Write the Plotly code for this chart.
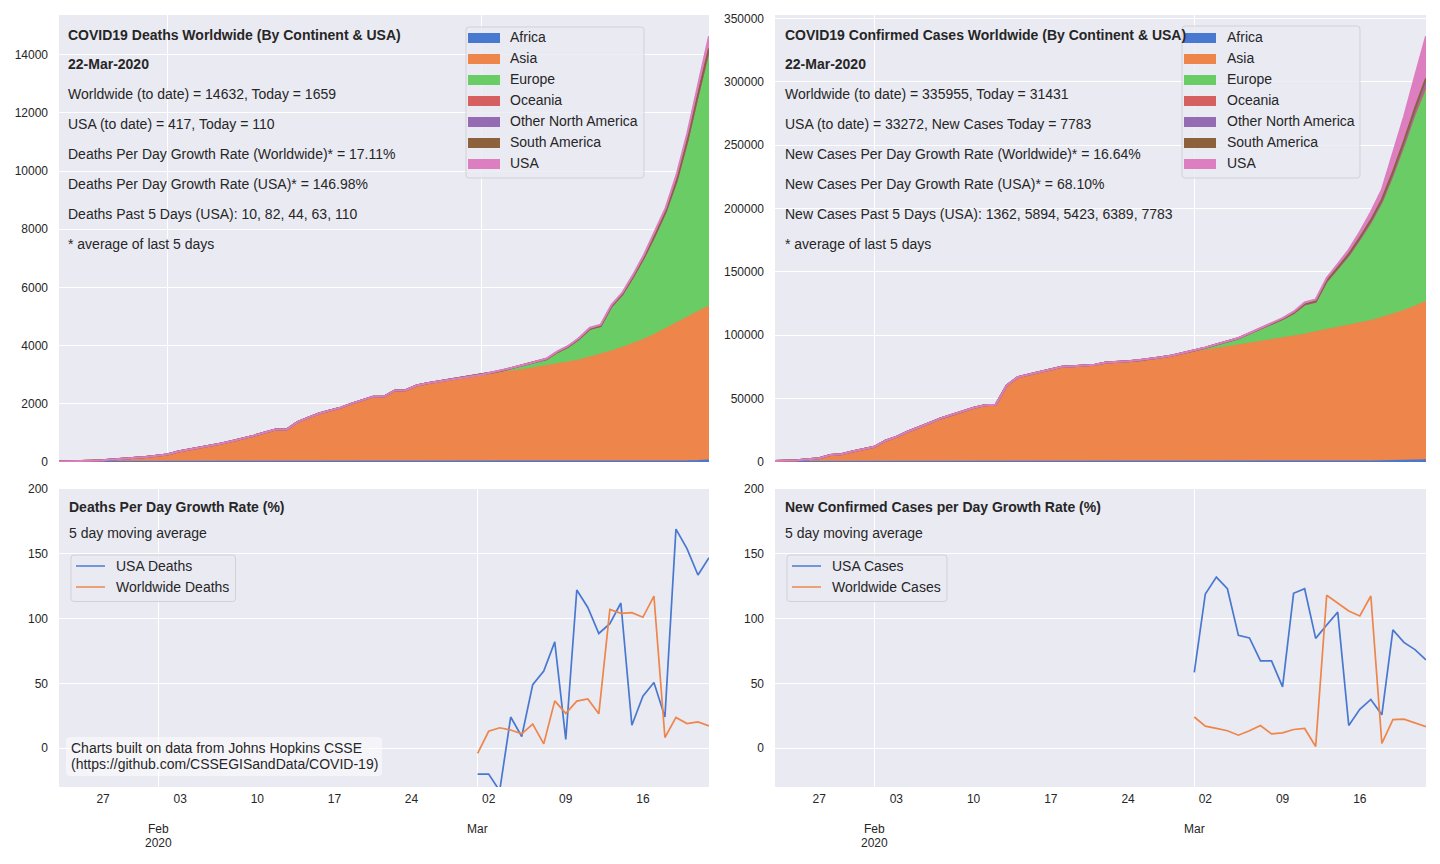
import pandas as pd
import plotly.graph_objects as go

dates = pd.date_range("2020-01-22", "2020-03-22").strftime("%Y-%m-%d").tolist()
growth_dates = pd.date_range("2020-03-01", "2020-03-22").strftime("%Y-%m-%d").tolist()

continents = ["Africa", "Asia", "Europe", "Oceania", "Other North America", "South America", "USA"]
colors = ["#4878D0", "#EE854A", "#6ACC64", "#D65F5F", "#956CB4", "#8C613C", "#DC7EC0"]

# ---- Deaths
d_africa = [0,0,0,0,0,0,0,0,0,0,
    0,0,0,0,0,0,0,0,0,0,0,0,0,0,0,0,0,0,0,0,0,0,0,0,0,0,0,0,0,
    0,0,0,0,0,0,0,1,1,2,2,3,3,5,6,8,10,15,17,24,33,55]
d_asia = [17,18,26,42,56,82,131,133,171,213,
    259,362,426,492,564,634,719,806,906,1013,1113,1118,1371,1523,1665,1769,1867,2006,2121,2246,2249,2455,2465,2621,2697,2757,2796,2850,2909,
    2958,3020,3065,3120,3175,3230,3295,3355,3420,3490,3590,3690,3800,3920,4050,4200,4370,4550,4740,4935,5130,5280]
d_europe = [0,0,0,0,0,0,0,0,0,0,
    0,0,0,0,0,0,0,0,0,0,0,0,0,0,1,1,1,1,1,1,2,3,4,8,11,13,18,22,31,
    36,58,87,121,159,214,243,421,540,737,982,980,1547,1831,2309,2817,3396,4023,4879,6060,7459,8821]
d_oceania = [0,0,0,0,0,0,0,0,0,0,
    0,0,0,0,0,0,0,0,0,0,0,0,0,0,0,0,0,0,0,0,0,0,0,0,0,0,0,0,0,
    1,1,1,2,2,2,3,3,3,3,3,3,3,3,5,5,5,6,6,6,7,7]
d_other_na = [0,0,0,0,0,0,0,0,0,0,
    0,0,0,0,0,0,0,0,0,0,0,0,0,0,0,0,0,0,0,0,0,0,0,0,0,0,0,0,0,
    0,0,0,0,0,0,0,0,1,1,1,1,1,2,2,4,7,9,10,13,17,25]
d_south_america = [0,0,0,0,0,0,0,0,0,0,
    0,0,0,0,0,0,0,0,0,0,0,0,0,0,0,0,0,0,0,0,0,0,0,0,0,0,0,0,0,
    0,0,0,0,0,0,0,1,1,1,1,3,3,4,5,7,9,12,15,17,20,27]
d_usa = [0,0,0,0,0,0,0,0,0,0,
    0,0,0,0,0,0,0,0,0,0,0,0,0,0,0,0,0,0,0,0,0,0,0,0,0,0,0,0,1,
    1,6,7,11,12,14,17,21,22,28,36,40,47,54,63,85,108,118,200,244,307,417]

# ---- Confirmed cases
c_africa = [0,0,0,0,0,0,0,0,0,0,
    0,0,0,0,0,0,0,0,0,0,0,0,0,1,1,1,1,1,1,1,1,1,1,1,1,1,1,1,2,
    3,4,8,12,17,30,35,50,60,70,90,110,140,190,280,340,440,600,800,950,1150,1400]
c_asia = [554,653,937,1429,2106,2913,5560,6148,8209,9891,
    11991,16740,19831,23839,27582,30741,34331,37051,40078,42689,44724,45143,60288,66803,68948,71142,73175,75053,75556,76114,76711,78429,78736,79204,79951,80760,81847,82971,84495,
    86500,87800,89200,90600,92300,93900,95300,96700,97800,98900,100400,102300,104000,105600,107300,109000,110900,113000,115300,118200,121400,125000]
c_europe = [0,0,2,3,3,4,8,8,9,16,
    23,23,23,24,24,24,27,36,39,40,44,44,45,46,46,46,46,46,46,46,65,96,175,274,370,535,803,1040,1400,
    1734,2336,3435,4264,5243,7471,9938,12351,14898,18385,23741,23791,38215,46734,55255,66192,77481,91078,109643,129958,151168,168233]
c_oceania = [0,0,0,0,3,4,4,4,9,9,
    12,12,12,13,13,13,15,15,15,15,15,15,15,15,15,15,15,15,15,15,19,22,22,22,22,23,23,25,27,
    30,36,41,51,57,63,72,82,97,116,128,158,201,250,300,350,480,610,800,1000,1300,1750]
c_other_na = [0,0,0,0,1,1,1,1,2,4,
    4,4,4,5,5,5,7,7,7,7,7,7,7,7,7,7,8,8,8,8,9,9,9,9,11,11,13,14,17,
    26,29,35,38,42,50,60,70,82,95,105,130,200,230,280,380,480,650,950,1200,1600,2800]
c_south_america = [0,0,0,0,0,0,0,0,0,0,
    0,0,0,0,0,0,0,0,0,0,0,0,0,0,0,0,0,0,0,0,0,0,0,0,0,1,1,1,2,
    2,3,3,6,10,25,40,50,70,95,130,200,270,370,540,680,900,1100,1400,1800,2400,3500]
c_usa = [1,1,2,2,5,5,5,5,5,7,
    8,8,11,11,11,11,11,11,11,11,12,12,13,13,13,13,13,13,13,13,15,15,15,51,51,57,58,60,68,
    74,98,118,149,217,262,402,518,583,959,1281,1663,2179,2727,3499,4632,6421,7783,13677,19100,25489,33272]

# ---- Growth rates
g_usa_deaths = [-20,-20,-33,24,9,49,59.5,82,6.7,122,108.6,88.5,96,112,17.7,40,50.7,24,169,154,133.6,146.98]
g_world_deaths = [-4,13,15.7,14,11,18.5,3.3,36.5,26.8,36.3,38,26.5,107,104,104.5,101,117.4,8.2,23.7,19,20.3,17.11]
g_usa_cases = [58.4,119,132,123,87,85,67.4,67.4,47.3,119.5,123,84.7,95,105,17.5,30,37.6,25.7,91.3,81.6,76,68.1]
g_world_cases = [24,17,15.3,13.4,10,13.4,17.5,11,11.8,14.4,15.2,1.3,118,111.7,105.8,102,117.4,3.6,22,22.4,19.5,16.64]

day_ticks = ["2020-01-27","2020-02-03","2020-02-10","2020-02-17","2020-02-24","2020-03-02","2020-03-09","2020-03-16"]
day_labels = ["27","03","10","17","24","02","09","16"]
month_ticks = ["2020-02-01","2020-03-01"]

left_text = [
    ("<b>COVID19 Deaths Worldwide (By Continent &amp; USA)</b>", 35),
    ("<b>22-Mar-2020</b>", 64),
    ("Worldwide (to date) = 14632, Today = 1659", 94),
    ("USA (to date) = 417, Today = 110", 124),
    ("Deaths Per Day Growth Rate (Worldwide)* = 17.11%", 154),
    ("Deaths Per Day Growth Rate (USA)* = 146.98%", 184),
    ("Deaths Past 5 Days (USA): 10, 82, 44, 63, 110", 214),
    ("* average of last 5 days", 244),
]
right_text = [
    ("<b>COVID19 Confirmed Cases Worldwide (By Continent &amp; USA)</b>", 35),
    ("<b>22-Mar-2020</b>", 64),
    ("Worldwide (to date) = 335955, Today = 31431", 94),
    ("USA (to date) = 33272, New Cases Today = 7783", 124),
    ("New Cases Per Day Growth Rate (Worldwide)* = 16.64%", 154),
    ("New Cases Per Day Growth Rate (USA)* = 68.10%", 184),
    ("New Cases Past 5 Days (USA): 1362, 5894, 5423, 6389, 7783", 214),
    ("* average of last 5 days", 244),
]

W, H = 1440, 864
BG, GRID, INK = "#EAEAF2", "#FFFFFF", "#262626"
FONT = "Liberation Sans"
PAD = 2  # annotation border + padding
px = lambda v: v / W
py = lambda v: 1 - v / H

fig = go.Figure()

death_series = [d_africa, d_asia, d_europe, d_oceania, d_other_na, d_south_america, d_usa]
case_series = [c_africa, c_asia, c_europe, c_oceania, c_other_na, c_south_america, c_usa]

for name, color, vals in zip(continents, colors, death_series):
    fig.add_trace(go.Scatter(x=dates, y=vals, name=name, stackgroup="d", mode="lines",
                             line=dict(color=color, width=2), fillcolor=color,
                             xaxis="x", yaxis="y", showlegend=False))
for name, color, vals in zip(continents, colors, case_series):
    fig.add_trace(go.Scatter(x=dates, y=vals, name=name, stackgroup="c", mode="lines",
                             line=dict(color=color, width=2), fillcolor=color,
                             xaxis="x2", yaxis="y2", showlegend=False))
for name, color, vals in [("USA Deaths", colors[0], g_usa_deaths), ("Worldwide Deaths", colors[1], g_world_deaths)]:
    fig.add_trace(go.Scatter(x=growth_dates, y=vals, name=name, mode="lines",
                             line=dict(color=color, width=1.7), xaxis="x3", yaxis="y3", showlegend=False))
for name, color, vals in [("USA Cases", colors[0], g_usa_cases), ("Worldwide Cases", colors[1], g_world_cases)]:
    fig.add_trace(go.Scatter(x=growth_dates, y=vals, name=name, mode="lines",
                             line=dict(color=color, width=1.7), xaxis="x4", yaxis="y4", showlegend=False))


def xaxis(left, right, start, labels, anchor):
    return dict(domain=[px(left), px(right)], type="date", range=[start, "2020-03-22"], anchor=anchor,
                tickmode="array", tickvals=day_ticks, ticktext=day_labels, showticklabels=labels,
                ticks="", showgrid=False, zeroline=False, showline=False,
                ticklabelstandoff=3, tickfont=dict(size=12, color=INK, family=FONT),
                minor=dict(tickmode="array", tickvals=month_ticks, showgrid=True,
                           gridcolor=GRID, gridwidth=1.3, ticks=""))


def yaxis(top, bottom, rng, ticks, anchor):
    return dict(domain=[py(bottom), py(top)], range=rng, tickmode="array", tickvals=ticks, anchor=anchor,
                tickformat="d", ticks="", showgrid=True, gridcolor=GRID, gridwidth=1.3,
                zeroline=False, showline=False, ticklabelstandoff=10,
                tickfont=dict(size=12, color=INK, family=FONT))


def label(text, x, y, size=14, xanchor="left", align="left"):
    return dict(text=text, x=px(x - (PAD if xanchor == "left" else 0)), y=py(y), xref="paper", yref="paper",
                xanchor=xanchor, yanchor="middle", align=align, showarrow=False,
                font=dict(size=size, color=INK, family=FONT))


def round_box(x0, y0, x1, y1, r, fill, edge=None):
    path = (f"M{px(x0 + r)},{py(y0)} L{px(x1 - r)},{py(y0)} Q{px(x1)},{py(y0)} {px(x1)},{py(y0 + r)} "
            f"L{px(x1)},{py(y1 - r)} Q{px(x1)},{py(y1)} {px(x1 - r)},{py(y1)} "
            f"L{px(x0 + r)},{py(y1)} Q{px(x0)},{py(y1)} {px(x0)},{py(y1 - r)} "
            f"L{px(x0)},{py(y0 + r)} Q{px(x0)},{py(y0)} {px(x0 + r)},{py(y0)} Z")
    return dict(type="path", path=path, xref="paper", yref="paper", layer="above", fillcolor=fill,
                line=dict(color=edge or "rgba(0,0,0,0)", width=1 if edge else 0))


annotations, shapes = [], []
for items, x0 in [(left_text, 68), (right_text, 785)]:
    annotations += [label(text, x0, y) for text, y in items]
for x0, title in [(69, "Deaths Per Day Growth Rate (%)"), (785, "New Confirmed Cases per Day Growth Rate (%)")]:
    annotations.append(label(f"<b>{title}</b>", x0, 507))
    annotations.append(label("5 day moving average", x0, 533))

LEG_FILL, LEG_EDGE = "rgba(234,234,242,0.8)", "rgba(204,204,204,0.8)"

# continent legends (top panels)
for bx0, bx1, by0, by1, sx0, tx in [(466, 644, 27, 178, 468, 510), (1182, 1360, 26, 178, 1184, 1227)]:
    shapes.append(round_box(bx0, by0, bx1, by1, 3, LEG_FILL, LEG_EDGE))
    for i, (name, color) in enumerate(zip(continents, colors)):
        yc = 38 + 21 * i
        shapes.append(dict(type="rect", xref="paper", yref="paper", layer="above", x0=px(sx0), x1=px(sx0 + 32),
                           y0=py(yc - 5), y1=py(yc + 5), fillcolor=color, line=dict(width=0)))
        annotations.append(label(name, tx, yc - 1))

# line legends (bottom panels)
for bx0, bx1, sx0, tx, names in [(71, 235.5, 76, 116, ["USA Deaths", "Worldwide Deaths"]),
                                 (787, 947, 792, 832, ["USA Cases", "Worldwide Cases"])]:
    shapes.append(round_box(bx0, 555, bx1, 601.5, 3, LEG_FILL, LEG_EDGE))
    for i, (name, color) in enumerate(zip(names, colors)):
        yc = 566 + 21 * i
        shapes.append(dict(type="line", xref="paper", yref="paper", layer="above", x0=px(sx0), x1=px(sx0 + 29),
                           y0=py(yc), y1=py(yc), line=dict(color=color, width=1.7), opacity=0.85))
        annotations.append(label(name, tx, yc))

# data credit
shapes.append(round_box(66, 737, 382, 776, 4, "rgba(255,255,255,0.5)"))
annotations.append(label("Charts built on data from Johns Hopkins CSSE", 71, 748))
annotations.append(label("(https://github.com/CSSEGISandData/COVID-19)", 71, 764))

# month labels under the day ticks
for xa in ["x3", "x4"]:
    for m, lines in zip(month_ticks, [[("Feb", 829), ("2020", 843)], [("Mar", 829)]]):
        for text, y in lines:
            annotations.append(dict(text=text, x=m, xref=xa, y=py(y), yref="paper", xanchor="center", yanchor="middle",
                                    showarrow=False, font=dict(size=12, color=INK, family=FONT)))

fig.update_layout(
    width=W, height=H, margin=dict(l=0, r=0, t=0, b=0, autoexpand=False),
    paper_bgcolor="#FFFFFF", plot_bgcolor=BG, font=dict(family=FONT, color=INK),
    hovermode=False, showlegend=False,
    xaxis=xaxis(59, 709, "2020-01-22", False, "y"),
    xaxis2=xaxis(775, 1426, "2020-01-23", False, "y2"),
    xaxis3=xaxis(59, 709, "2020-01-23", True, "y3"),
    xaxis4=xaxis(775, 1426, "2020-01-23", True, "y4"),
    yaxis=yaxis(15, 462, [0, 15364], [0, 2000, 4000, 6000, 8000, 10000, 12000, 14000], "x"),
    yaxis2=yaxis(15, 462, [0, 352753], [0, 50000, 100000, 150000, 200000, 250000, 300000, 350000], "x2"),
    yaxis3=yaxis(489, 787, [-30, 200], [0, 50, 100, 150, 200], "x3"),
    yaxis4=yaxis(489, 787, [-30, 200], [0, 50, 100, 150, 200], "x4"),
    annotations=annotations,
    shapes=shapes,
)

fig.write_html("out.html", config={"displayModeBar": False},
               post_script="document.body.style.margin='0';document.body.style.overflow='hidden';")
